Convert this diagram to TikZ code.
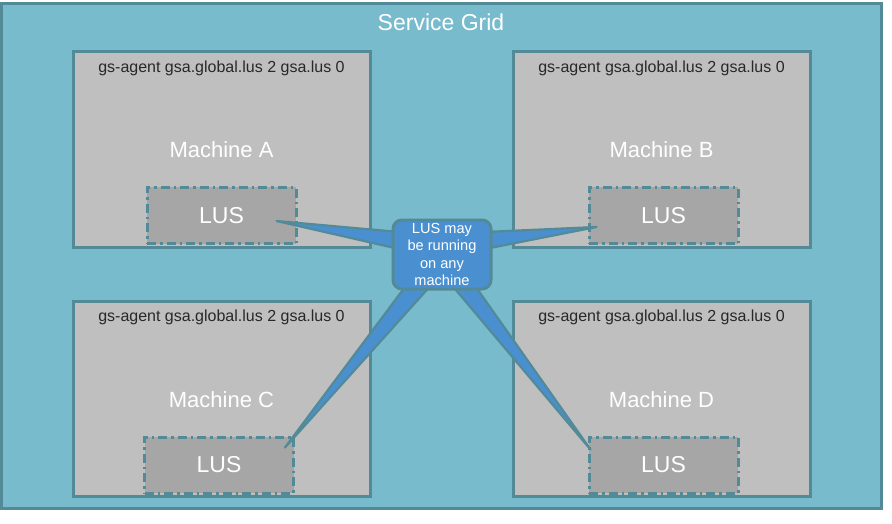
\documentclass[tikz,border=0pt]{standalone}
\usepackage{fontspec}
\setmainfont{Liberation Sans}
\usetikzlibrary{calc,positioning}
\definecolor{gridfill}{RGB}{120,187,204}
\definecolor{gridline}{RGB}{82,138,152}
\definecolor{boxgray}{RGB}{191,191,191}
\definecolor{lusgray}{RGB}{166,166,166}
\definecolor{noteblue}{RGB}{74,144,208}
\definecolor{agenttext}{RGB}{40,40,40}
\tikzset{
  every node/.style={font=\fontsize{22}{26}\selectfont},
  grid box/.style={draw=gridline, fill=gridfill, line width=3pt,
    minimum width=879.5pt, minimum height=504pt, inner sep=0pt},
  machine/.style={draw=gridline, fill=boxgray, line width=3pt,
    minimum width=297pt, minimum height=195pt, inner sep=0pt},
  lus box/.style={draw=gridline, fill=lusgray, line width=3pt,
    dash pattern=on 9pt off 4pt on 2.5pt off 4pt,
    minimum width=149pt, minimum height=56pt, inner sep=0pt,
    text=white, font=\fontsize{23}{27}\selectfont},
  grid title/.style={text=white, font=\fontsize{23}{27}\selectfont},
  machine label/.style={text=white},
  agent label/.style={text=agenttext, font=\fontsize{16}{19}\selectfont},
  note box/.style={draw=gridline, fill=noteblue, line width=3pt,
    rounded corners=9pt, minimum width=98pt, minimum height=69pt,
    inner sep=0pt, align=center, text=white,
    font=\fontsize{14.6}{17.3}\selectfont},
  spike/.style={draw=gridline, fill=noteblue, line width=2.2pt, line join=round}
}

\begin{document}
\begin{tikzpicture}[x=1pt,y=-1pt]
  \useasboundingbox (0,0) rectangle (892,524);

  \node[grid box] (grid) at (441.25,256) {};
  \node[grid title] (gridtitle) at (441,22) {Service Grid};

  \foreach \m/\x/\y/\lx in {A/221.5/149.5/221.5, B/661.5/149.5/663.5,
                            C/221.5/399/219, D/661.5/399/663.5} {
    \node[machine] (m\m) at (\x,\y) {};
    \node[agent label] (agent\m) at (\x,\y-81.5) {gs-agent gsa.global.lus 2 gsa.lus 0};
    \node[machine label] (name\m) at (\x,\y+0.5) {Machine \m};
    \node[lus box] (lus\m) at (\lx,\y+66) {LUS};
  }

  % callout tails, then the callout itself
  \coordinate (nc) at (442,254.5);
  \draw[spike] ($(nc)+(-43,-22.5)$) -- ($(lusA.east)+(-21,5.5)$) -- ($(nc)+(-43,-5.5)$);
  \draw[spike] ($(nc)+(43,-22.5)$) -- ($(lusB.west)+(9,11.5)$) -- ($(nc)+(43,-5.5)$);
  \draw[spike] ($(nc)+(-34,28.5)$) -- ($(lusC.north east)+(-10,12)$) -- ($(nc)+(-9,28.5)$);
  \draw[spike] ($(nc)+(8,28.5)$) -- ($(lusD.north west)+(3,14)$) -- ($(nc)+(31,28.5)$);

  \node[note box] (note) at (nc) {LUS may\\be running\\on any\\machine};

\end{tikzpicture}
\end{document}
